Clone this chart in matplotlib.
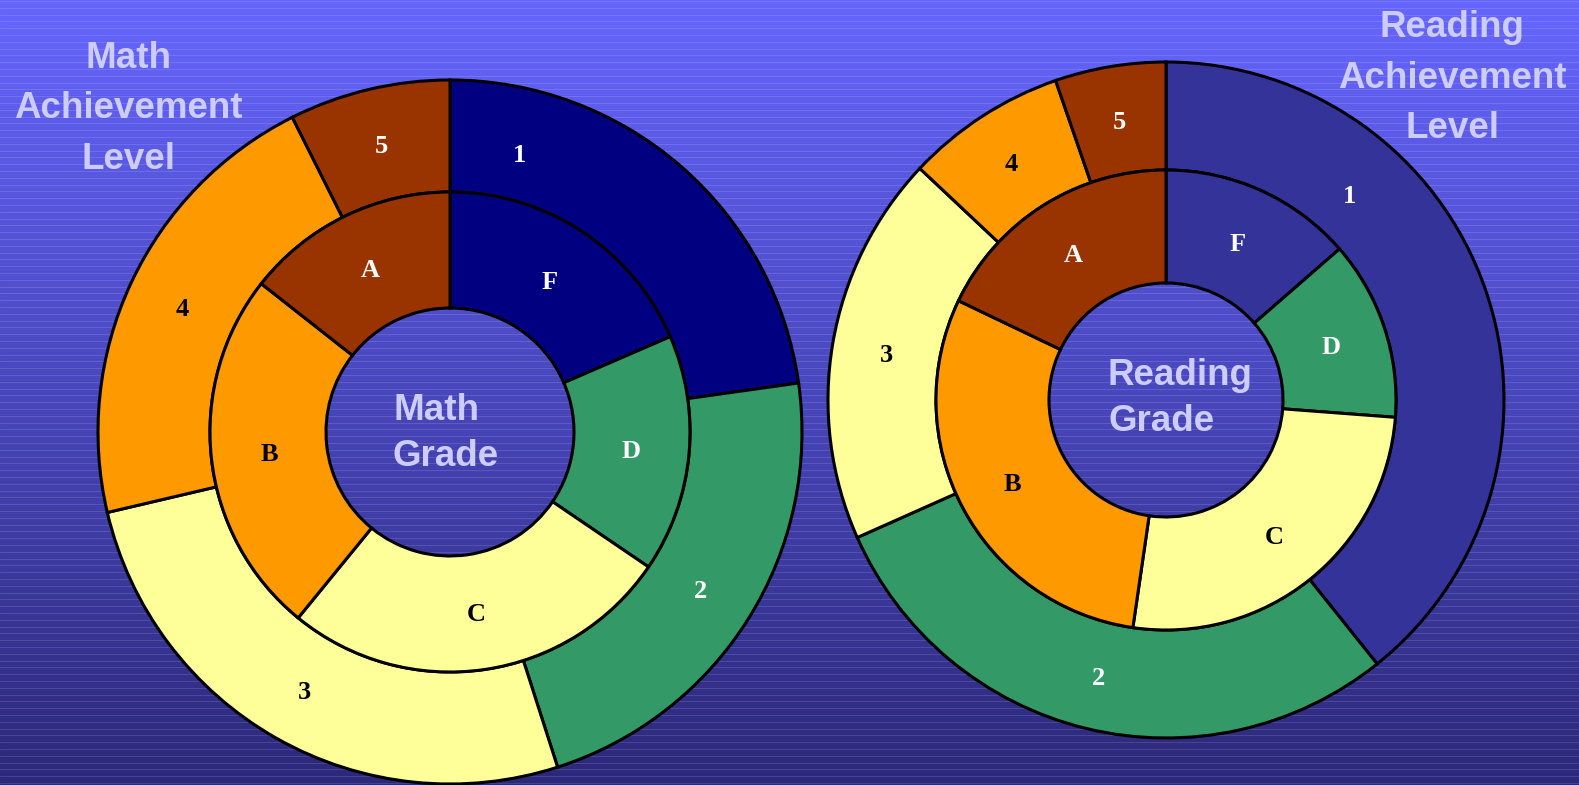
import numpy as np
import matplotlib
matplotlib.use("Agg")
import matplotlib.pyplot as plt

# ---------- Data ----------
level_labels = ["1", "2", "3", "4", "5"]
grade_labels = ["F", "D", "C", "B", "A"]

math_level = [22.8, 22.3, 26.3, 21.3, 7.4]
math_grade = [18.5, 16.0, 26.4, 24.7, 14.4]

reading_level = [39.3, 29.1, 18.7, 7.7, 5.3]
reading_grade = [13.6, 12.6, 26.1, 29.8, 17.9]

# ---------- Colors ----------
navy = "#000080"
slate = "#333399"
green = "#339966"
yellow = "#FFFF99"
orange = "#FF9900"
brown = "#993300"
lavender = "#CCCCFF"

math_colors = [navy, green, yellow, orange, brown]
reading_colors = [slate, green, yellow, orange, brown]
dark = {navy, slate, green, brown}

W, H = 1579, 785
fig = plt.figure(figsize=(W / 100, H / 100), dpi=100)
ax = fig.add_axes([0, 0, 1, 1])

# ---------- Background gradient + stripes ----------
top = np.array([102, 102, 255]) / 255
bottom = np.array([44, 40, 122]) / 255
t = np.linspace(0, 1, H)[:, None]
grad = (top * (1 - t) + bottom * t)[:, None, :]
ax.imshow(grad, extent=(0, W, 0, H), aspect="auto", interpolation="bilinear", zorder=0)
for y in np.arange(2, H, 6.8):
    ax.axhline(y, color="white", alpha=0.15, lw=0.6, zorder=1)


def donut(values_out, values_in, colors, center, r_out, r_mid, r_hole, nudge):
    wp = dict(edgecolor="black", linewidth=2.2, zorder=3)
    outer, _ = ax.pie(values_out, radius=r_out, center=center, startangle=90,
                      counterclock=False, colors=colors, frame=True,
                      wedgeprops=dict(width=r_out - r_mid, **wp))
    inner, _ = ax.pie(values_in, radius=r_mid, center=center, startangle=90,
                      counterclock=False, colors=colors, frame=True,
                      wedgeprops=dict(width=r_mid - r_hole, **wp))
    for wedges, labels in ((outer, level_labels), (inner, grade_labels)):
        for w, lab, col in zip(wedges, labels, colors):
            ang = (w.theta1 + w.theta2) / 2 + nudge.get(lab, 0)
            r = w.r - w.width / 2 - (8 if lab in nudge else 0)
            x = center[0] + r * np.cos(np.radians(ang))
            y = center[1] + r * np.sin(np.radians(ang))
            ax.text(x, y, lab, ha="center", va="center_baseline", fontsize=19,
                    fontweight="bold", family="Liberation Serif",
                    color="white" if col in dark else "black", zorder=5)


# ---------- Charts ----------
math_c = (450, H - 432)
read_c = (1166, H - 400)
donut(math_level, math_grade, math_colors, math_c, 352, 240, 124, {"1": 27})
donut(reading_level, reading_grade, reading_colors, read_c, 338, 230, 117, {"1": 29})

# ---------- Titles ----------
tkw = dict(fontsize=26.5, fontweight="bold", family="Liberation Sans",
           color=lavender, zorder=6)
for line, base in zip(["Math", "Achievement", "Level"], [68, 118, 169]):
    ax.text(128, H - base, line, ha="center", va="baseline", **tkw)
for line, base in zip(["Reading", "Achievement", "Level"], [37, 88, 138]):
    ax.text(1452, H - base, line, ha="center", va="baseline", **tkw)
for line, base in zip(["Math", "Grade"], [420, 466]):
    ax.text(393, H - base, line, ha="left", va="baseline", **tkw)
for line, base in zip(["Reading", "Grade"], [385, 431]):
    ax.text(1108, H - base, line, ha="left", va="baseline", **tkw)

ax.set_xlim(0, W)
ax.set_ylim(0, H)
ax.set_aspect("auto")
ax.axis("off")

fig.savefig("out.png", dpi=100)
